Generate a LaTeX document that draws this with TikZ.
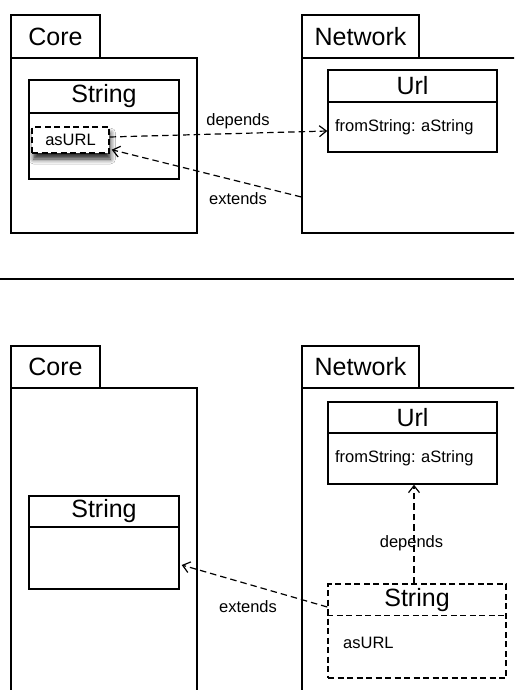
\documentclass[tikz,border=0pt]{standalone}
\usepackage{fontspec}
\setmainfont{Liberation Sans}
\usetikzlibrary{arrows.meta,calc,shadows.blur}
\begin{document}
\frenchspacing
\begin{tikzpicture}[x=1pt,y=-1pt,
  box/.style={draw,line width=1.4pt,fill=white,inner sep=0pt},
  dashpat/.style={dash pattern=on 6pt off 3.5pt},
  dbox/.style={box,dashpat},
  big/.style={font=\fontsize{25}{28}\selectfont},
  small/.style={font=\fontsize{16.5}{20}\selectfont},
  lbl/.style={font=\fontsize{16.5}{20}\selectfont,inner sep=0pt},
  dep/.style={line width=1.2pt,dash pattern=on 6.5pt off 4pt,
    -{Straight Barb[length=7pt,width=11pt,line width=1.2pt]}},
]
\useasboundingbox (0,0) rectangle (514,690);
\clip (0,0) rectangle (514,690);
\fill[white] (0,0) rectangle (514,690);

% ---------- top ----------
\node[box,big,minimum width=89pt,minimum height=43pt] (coretab) at (55.5,36.5) {Core};
\node[box,minimum width=186pt,minimum height=175pt] (corebody) at (104,145.5) {};
\node[box,big,minimum width=150pt,minimum height=33pt] (strAh) at (104,96.5) {String};
\node[box,minimum width=150pt,minimum height=66pt] (strAb) at (104,146) {};
\node[dbox,small,minimum width=77pt,minimum height=26pt,
  blur shadow={shadow xshift=1.5pt,shadow yshift=-6pt,shadow blur radius=5pt,shadow opacity=85}]
  (asurl) at (70.5,140) {asURL};

\node[box,big,minimum width=117pt,minimum height=43pt] (nettab) at (360.5,36.5) {Network};
\node[box,minimum width=238pt,minimum height=175pt] (netbody) at (421,145.5) {};
\node[box,big,minimum width=169pt,minimum height=32pt] (urlh) at (412.5,86) {Url};
\node[box,small,minimum width=169pt,minimum height=50pt,text width=155pt,inner xsep=7pt,align=left]
  (urlb) at (412.5,127) {fromString: aString};

\coordinate (extA) at ($(netbody.west)+(0,51.5)$);
\draw[dep] ($(asurl.east)+(0,-3)$) -- ($(urlb.west)+(0,4)$);
\draw[dep] (extA) -- ($(asurl.south east)+(2,-4)$);
\node[lbl] (depA) at (238,121) {depends};
\node[lbl] (extAl) at (238,199) {extends};

% ---------- separator ----------
\coordinate (sepL) at (0,279);
\coordinate (sepR) at (514,279);
\draw[line width=1.3pt] (sepL) -- (sepR);

% ---------- bottom ----------
\node[box,big,minimum width=89pt,minimum height=42pt] (coretab2) at (55.5,367) {Core};
\node[box,minimum width=186pt,minimum height=332pt] (corebody2) at (104,554) {};
\node[box,big,minimum width=150pt,minimum height=31pt] (strBh) at (104,511.5) {String};
\node[box,minimum width=150pt,minimum height=62pt] (strBb) at (104,558) {};

\node[box,big,minimum width=117pt,minimum height=42pt] (nettab2) at (360.5,367) {Network};
\node[box,minimum width=238pt,minimum height=332pt] (netbody2) at (421,554) {};
\node[box,big,minimum width=169pt,minimum height=31pt] (url2h) at (412.5,417.5) {Url};
\node[box,small,minimum width=169pt,minimum height=51pt,text width=155pt,inner xsep=7pt,align=left]
  (url2b) at (412.5,458.5) {fromString: aString};

\node[dbox,minimum width=178pt,minimum height=94pt] (strC) at (417,631) {};
\node[big,inner sep=0pt] (strCname) at (417,600) {String};
\draw[line width=1.4pt,dashpat] ($(strC.north west)+(0,32)$) -- ($(strC.north east)+(0,32)$);
\node[small,inner sep=0pt,anchor=west] (strCop) at (343,643) {asURL};

\draw[dep] ($(strC.north)+(-3,0)$) -- ($(url2b.south)+(1.5,0)$);
\draw[dep] ($(strC.west)+(0,-24)$) -- ($(strBb.east)+(2,7)$);
\node[lbl] (depB) at (411.5,543) {depends};
\node[lbl] (extBl) at (248,607) {extends};
\end{tikzpicture}
\end{document}
